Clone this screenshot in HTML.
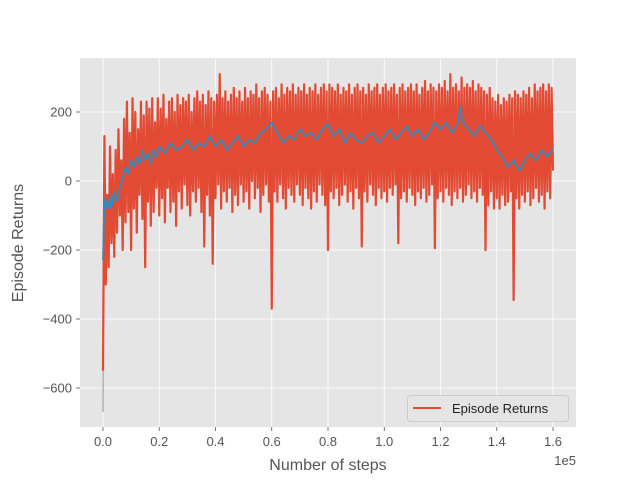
<!DOCTYPE html>
<html><head><meta charset="utf-8"><style>
html,body{margin:0;padding:0;background:#fff;}
svg{display:block;font-family:"Liberation Sans","DejaVu Sans",sans-serif;}
</style></head><body>
<svg id="chart" width="640" height="480">
<rect x="80" y="58" width="496" height="369" fill="#e5e5e5"/>
<g id="grid"></g><g id="series"></g><g id="ticks"></g>
<text x="328" y="470" text-anchor="middle" font-size="16" fill="#555">Number of steps</text>
<text transform="translate(23,243) rotate(-90)" text-anchor="middle" font-size="16" fill="#555">Episode Returns</text>
<text x="576" y="465" text-anchor="end" font-size="13" fill="#555">1e5</text>
<g>
<rect x="407.5" y="395.5" width="161" height="26" rx="3" fill="#e5e5e5" stroke="#cccccc" stroke-width="1"/>
<line x1="413" y1="408" x2="441" y2="408" stroke="#E24A33" stroke-width="2"/>
<text x="452" y="413" font-size="13" fill="#222">Episode Returns</text>
</g>
</svg>
<script>
const xTicks=[0,0.2,0.4,0.6,0.8,1.0,1.2,1.4,1.6];
const xTickLabels=["0.0","0.2","0.4","0.6","0.8","1.0","1.2","1.4","1.6"];
const yTicks=[-600,-400,-200,0,200];
const yTickLabels=["−600","−400","−200","0","200"];
const rawReturns=[
-550,130,-300,-40,-250,100,-180,20,-220,90,-150,150,-100,60,-200,180,-120,230,-90,140,
-200,240,-80,200,-150,150,-40,230,-110,190,-250,230,-60,210,-130,240,-90,170,-20,240,
-100,210,-50,250,-120,180,-20,230,-90,240,-60,200,-130,250,-30,220,-80,240,-10,230,
-70,250,-100,200,-30,240,-60,260,-20,230,-90,250,-190,220,-40,260,-100,240,-240,230,
-50,250,-10,310,-80,240,-30,260,-60,230,-20,250,-90,270,-40,240,-70,260,-10,230,
-60,270,-30,240,-80,260,0,250,-50,280,-20,240,-90,260,-40,270,-10,250,-60,230,
-370,260,-30,270,-60,240,-10,280,-50,250,-80,270,-20,260,-40,280,-60,250,-10,270,
-40,260,-70,280,-20,250,-50,270,-80,260,-30,280,-60,250,-10,270,-40,280,-70,260,
-200,280,-30,270,-50,260,-20,280,-70,250,-40,270,-10,260,-60,280,-30,250,-80,270,
-20,280,-50,260,-190,270,-30,250,-60,280,-10,260,-40,270,-70,280,-20,250,-50,270,
-30,280,-60,260,-20,270,-40,280,-10,250,-180,270,-50,280,-30,260,-60,270,-20,280,
-40,260,-70,280,-30,250,-50,270,-20,290,-60,260,-40,280,-10,270,-195,260,-50,280,
-30,270,-60,290,-20,260,-40,310,-70,270,-30,280,-50,260,-20,300,-60,270,-40,280,
-10,270,-50,290,-30,260,-60,280,-20,270,-40,260,-200,250,-70,270,-30,240,-80,230,
-50,250,-80,220,-40,240,-70,230,-60,250,-30,240,-345,260,-50,250,-80,240,-40,260,
-60,250,-30,270,-70,240,-50,280,-20,260,-60,270,-40,280,-80,260,-30,280,-50,270,30];
const rawSteps=rawReturns.map((v,i)=>i*0.005);
const shadowReturns=[-670,-250,-150,-300,-100];
const shadowSteps=[0,0.002,0.004,0.006,0.01];
const smoothSteps=[0,0.005,0.01,0.015,0.02,0.025,0.03,0.035,0.04,0.05,0.06,0.07,0.08,0.09,0.1,0.11,0.12,0.13,0.14,0.15,0.16,0.17,0.18,0.19,0.2,0.22,0.24,0.26,0.28,0.3,0.32,0.34,0.36,0.38,0.4,0.42,0.44,0.46,0.48,0.5,0.52,0.54,0.56,0.58,0.6,0.62,0.64,0.66,0.68,0.7,0.72,0.74,0.76,0.78,0.8,0.82,0.84,0.86,0.88,0.9,0.92,0.94,0.96,0.98,1.0,1.02,1.04,1.06,1.08,1.1,1.12,1.14,1.16,1.18,1.2,1.22,1.24,1.26,1.27,1.28,1.3,1.32,1.34,1.36,1.38,1.4,1.42,1.44,1.46,1.48,1.5,1.52,1.54,1.56,1.58,1.6];
const smoothReturns=[-230,-50,-60,-80,-60,-80,-40,-70,-30,-60,-20,10,40,20,60,40,70,50,90,60,80,50,90,70,100,80,110,90,100,120,90,110,100,130,100,120,90,110,130,100,120,110,140,150,170,140,110,130,120,150,130,140,120,150,165,130,150,110,140,120,110,130,140,110,130,150,120,140,160,130,150,120,140,170,150,170,140,160,215,170,150,130,160,140,120,90,70,40,60,30,60,80,60,90,70,95];
const X=v=>103+v*281.25, Y=v=>181-v*0.345;
const ns="http://www.w3.org/2000/svg";
const grid=document.getElementById('grid'),ticks=document.getElementById('ticks'),ser=document.getElementById('series');
function mk(tag,attrs,parent){const e=document.createElementNS(ns,tag);for(const k in attrs)e.setAttribute(k,attrs[k]);parent.appendChild(e);return e;}
xTicks.forEach((t,i)=>{
 const g=mk('line',{x1:X(t),x2:X(t),y1:58,y2:427,stroke:'#fff','stroke-width':0.8},grid);
 
 
 mk('line',{x1:X(t),x2:X(t),y1:427,y2:431,stroke:'#555','stroke-width':0.8},ticks);
 const tx=mk('text',{x:X(t),y:446,'text-anchor':'middle','font-size':13,fill:'#555'},ticks);
 tx.textContent=xTickLabels[i];
 
 
});
yTicks.forEach((t,i)=>{
 const g=mk('line',{x1:80,x2:576,y1:Y(t),y2:Y(t),stroke:'#fff','stroke-width':0.8},grid);
 
 
 mk('line',{x1:76,x2:80,y1:Y(t),y2:Y(t),stroke:'#555','stroke-width':0.8},ticks);
 const tx=mk('text',{x:72,y:Y(t)+4.5,'text-anchor':'end','font-size':13,fill:'#555'},ticks);
 tx.textContent=yTickLabels[i];
 
 
});
function line(xs,ys,color,w){return mk('polyline',{points:xs.map((x,i)=>X(x)+','+Y(ys[i])).join(' '),fill:'none',stroke:color,'stroke-width':w,'stroke-linejoin':'round'},ser);}
const s0=line(shadowSteps,shadowReturns,'#999',1);


const s1=line(rawSteps,rawReturns,'#E24A33',2.2);


const s2=line(smoothSteps,smoothReturns,'#348ABD',1.8);


</script>
</body></html>
